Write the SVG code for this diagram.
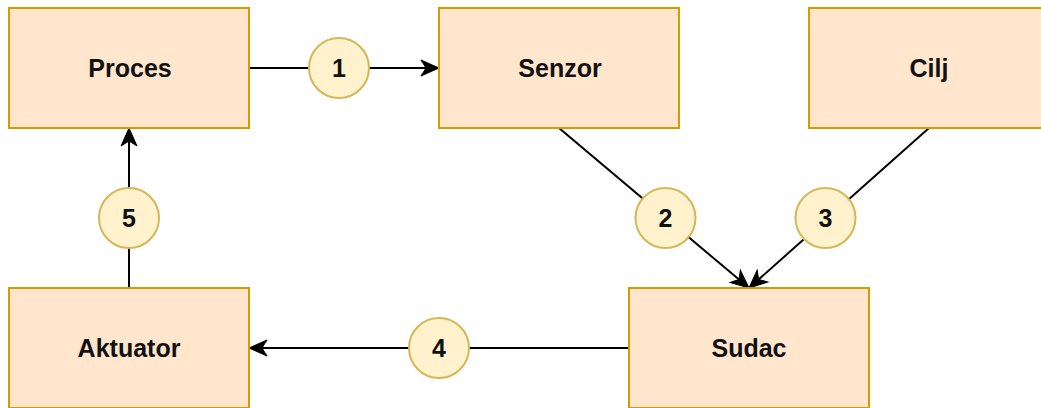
<svg xmlns="http://www.w3.org/2000/svg" width="1041" height="408" viewBox="0 0 1041 408">
<style>
.box{fill:#ffe6cc;stroke:#d79b00;stroke-width:2}
.num{fill:#fff2cc;stroke:#d6b656;stroke-width:2}
.lbl{font-family:"Liberation Sans",Arial,sans-serif;font-weight:bold;font-size:25px;fill:#111;text-anchor:middle}
.edge{fill:none;stroke:#000;stroke-width:2}
</style>
<defs>
<marker id="arr" markerUnits="userSpaceOnUse" viewBox="-20 -10 22 20" markerWidth="22" markerHeight="20" refX="-13" refY="0" orient="auto" overflow="visible">
<path d="M0,0 L-18,-8 L-13,0 L-18,8 Z" fill="#000" stroke="#000" stroke-width="1"/>
</marker>
</defs>
<rect width="1041" height="408" fill="#fff"/>
<g id="connectors">
<path class="edge" d="M249,68 L426,68" marker-end="url(#arr)"/>
<path class="edge" d="M559,128 L739.05,279.6" marker-end="url(#arr)"/>
<path class="edge" d="M929,128 L758.7,279.4" marker-end="url(#arr)"/>
<path class="edge" d="M629,348 L262,348" marker-end="url(#arr)"/>
<path class="edge" d="M129,288 L129,141" marker-end="url(#arr)"/>
</g>
<g id="proces"><rect class="box" x="9" y="8" width="240" height="120"/><text class="lbl" x="130" y="77">Proces</text></g>
<g id="senzor"><rect class="box" x="439" y="8" width="240" height="120"/><text class="lbl" x="560" y="77">Senzor</text></g>
<g id="cilj"><rect class="box" x="809" y="8" width="240" height="120"/><text class="lbl" x="929" y="77">Cilj</text></g>
<g id="aktuator"><rect class="box" x="9" y="288" width="240" height="120"/><text class="lbl" x="129" y="357">Aktuator</text></g>
<g id="sudac"><rect class="box" x="629" y="288" width="240" height="120"/><text class="lbl" x="749" y="357">Sudac</text></g>
<g id="n1"><circle class="num" cx="339" cy="68" r="30"/><text class="lbl" x="339" y="77">1</text></g>
<g id="n2"><circle class="num" cx="665.5" cy="218" r="30"/><text class="lbl" x="665.5" y="227">2</text></g>
<g id="n3"><circle class="num" cx="825.5" cy="218" r="30"/><text class="lbl" x="825.5" y="227">3</text></g>
<g id="n4"><circle class="num" cx="439" cy="348" r="30"/><text class="lbl" x="439" y="357">4</text></g>
<g id="n5"><circle class="num" cx="129" cy="218" r="30"/><text class="lbl" x="129" y="227">5</text></g>
</svg>
